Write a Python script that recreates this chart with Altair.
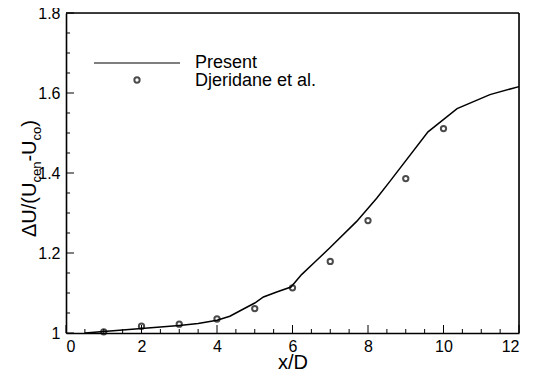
import altair as alt
import pandas as pd

# --- data ---
line_x = [0.5, 1, 2, 3, 3.5, 4, 4.34, 4.7, 5.0, 5.23, 5.6, 5.96, 6.24, 6.6, 6.99, 7.7, 8.23, 8.58, 9.59, 10.36, 11.23, 12]
line_y = [1.0, 1.004, 1.011, 1.019, 1.024, 1.032, 1.042, 1.06, 1.075, 1.09, 1.103, 1.115, 1.146, 1.178, 1.213, 1.279, 1.337, 1.379, 1.503, 1.561, 1.596, 1.616]

pts_x = [1, 2, 3, 4, 5, 6, 7, 8, 9, 10]
pts_y = [1.003, 1.017, 1.022, 1.035, 1.061, 1.113, 1.179, 1.281, 1.386, 1.511]

x_major = [0, 2, 4, 6, 8, 10, 12]
x_minor = [0.5, 1, 1.5, 2.5, 3, 3.5, 4.5, 5, 5.5, 6.5, 7, 7.5, 8.5, 9, 9.5, 10.5, 11, 11.5]
y_major = [1.0, 1.2, 1.4, 1.6, 1.8]
y_minor = [1.05, 1.1, 1.15, 1.25, 1.3, 1.35, 1.45, 1.5, 1.55, 1.65, 1.7, 1.75]

legend_labels = ["Present", "Djeridane et al."]
x_title = "x/D"

W, H = 453, 320
FONT = "Liberation Sans"

xs = alt.Scale(domain=[0, 12], nice=False, zero=False)
ys = alt.Scale(domain=[1.0, 1.8], nice=False, zero=False)

df_line = pd.DataFrame({"x": line_x, "y": line_y})
df_pts = pd.DataFrame({"x": pts_x, "y": pts_y})
one = pd.DataFrame({"a": [0]})

line = alt.Chart(df_line).mark_line(color="black", strokeWidth=1.5).encode(
    x=alt.X("x:Q", scale=xs, axis=alt.Axis(
        values=x_major, format="~g", title=x_title, grid=False, domain=True,
        domainColor="black", domainWidth=1.6,
        ticks=False, labelPadding=5, labelFontSize=16, labelFont=FONT, labelColor="black",
        titleFont=FONT, titleFontSize=20, titleFontWeight="normal", titleColor="black",
        titlePadding=-2)),
    y=alt.Y("y:Q", scale=ys, axis=alt.Axis(
        values=y_major, format="~g", title=None, grid=False, domain=True,
        domainColor="black", domainWidth=1.6,
        ticks=False, labelPadding=6, labelFontSize=16, labelFont=FONT, labelColor="black")),
)

points = alt.Chart(df_pts).mark_point(shape="circle", filled=False, color="black",
                                      strokeWidth=2, size=28).encode(
    x=alt.X("x:Q", scale=xs), y=alt.Y("y:Q", scale=ys))

# top and right frame edges drawn from the scale extremes
top_edge = alt.Chart(pd.DataFrame({"x": [0], "x2": [12], "y": [1.8]})).mark_rule(
    color="black", strokeWidth=1.6).encode(
    x=alt.X("x:Q", scale=xs), x2="x2:Q", y=alt.Y("y:Q", scale=ys))
right_edge = alt.Chart(pd.DataFrame({"x": [12], "y": [1.0], "y2": [1.8]})).mark_rule(
    color="black", strokeWidth=1.6).encode(
    x=alt.X("x:Q", scale=xs), y=alt.Y("y:Q", scale=ys), y2="y2:Q")

# inward ticks
def xticks(vals, length):
    return alt.Chart(pd.DataFrame({"v": vals})).mark_rule(color="black", strokeWidth=1).encode(
        x=alt.X("v:Q", scale=xs), y=alt.value(H), y2=alt.value(H - length))

def yticks(vals, length):
    return alt.Chart(pd.DataFrame({"v": vals})).mark_rule(color="black", strokeWidth=1).encode(
        y=alt.Y("v:Q", scale=ys), x=alt.value(0), x2=alt.value(length))

ticks = [xticks(x_major, 8), xticks(x_minor, 4), yticks(y_major, 8), yticks(y_minor, 4)]

# legend
leg_line = alt.Chart(one).mark_rule(color="black", strokeWidth=1.2).encode(
    x=alt.value(28), x2=alt.value(114), y=alt.value(50))
leg_pt = alt.Chart(one).mark_point(shape="circle", filled=False, color="black",
                                   strokeWidth=2, size=28).encode(
    x=alt.value(71), y=alt.value(67))
leg_t1 = alt.Chart(one).mark_text(text=legend_labels[0], align="left", baseline="middle",
                                  font=FONT, fontSize=18, color="black").encode(
    x=alt.value(129), y=alt.value(50))
leg_t2 = alt.Chart(one).mark_text(text=legend_labels[1], align="left", baseline="middle",
                                  font=FONT, fontSize=18, color="black").encode(
    x=alt.value(129), y=alt.value(68))

# y title with subscripts, rotated
F, S = 20, 13
pieces = [("\u0394U/(U", F, 0.0), ("cen", S, 4.5), ("-U", F, 0.0), ("co", S, 4.5), (")", F, 0.0)]
widths = {"\u0394U/(U": 2.723, "cen": 1.612, "-U": 1.055, "co": 1.056, ")": 0.333}
ytitle_layers = []
ypos = 224.0
for txt, fs, shift in pieces:
    ytitle_layers.append(
        alt.Chart(one).mark_text(text=txt, align="left", baseline="alphabetic", angle=270,
                                 font=FONT, fontSize=fs, color="black").encode(
            x=alt.value(-30 + shift), y=alt.value(ypos)))
    ypos -= widths[txt] * fs

chart = alt.layer(line, points, top_edge, right_edge, *ticks, leg_line, leg_pt, leg_t1, leg_t2,
                  *ytitle_layers).properties(
    width=W, height=H,
    padding={"left": 58, "top": 5, "right": 15, "bottom": 38},
    autosize="none",
    background="white",
)

chart.save("out.html", embed_options={"renderer": "svg", "actions": False})
